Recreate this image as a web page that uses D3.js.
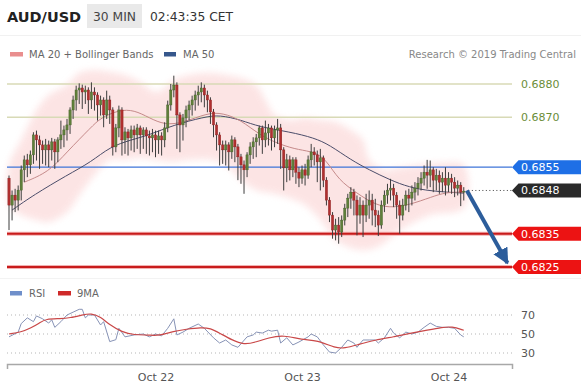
<!DOCTYPE html>
<html><head><meta charset="utf-8">
<script src="https://cdn.jsdelivr.net/npm/d3@7"></script>
<style>body{margin:0;background:#fff;}svg{display:block;font-family:"DejaVu Sans",sans-serif;}</style>
</head><body><svg id="c" width="581" height="383"></svg>
<script>
// ---------- DATA ----------
const startTime = Date.UTC(2019, 9, 21, 0, 0);   // first 30-min bar
const barMinutes = 30;
const opens = [
0.68517,0.68436,0.68466,0.68451,0.68481,0.68542,0.68572,0.68557,0.68587,0.68647,
0.68632,0.68617,0.68602,0.68617,0.68602,0.68626,0.68596,0.68632,0.68647,0.68662,
0.68677,0.68722,0.68752,0.68782,0.68788,0.68776,0.68782,0.68752,0.68776,0.68767,
0.68737,0.68752,0.68707,0.68752,0.68722,0.68611,0.68668,0.68722,0.68632,0.68656,
0.68638,0.68662,0.68647,0.68668,0.68647,0.68662,0.68644,0.68638,0.68647,0.68632,
0.68644,0.68632,0.68668,0.68737,0.68782,0.68797,0.68707,0.68677,0.68698,0.68722,
0.68737,0.68752,0.68767,0.68776,0.68788,0.68767,0.68752,0.68716,0.68677,0.68647,
0.68617,0.68602,0.68617,0.68596,0.68632,0.68611,0.68581,0.68557,0.68542,0.68587,
0.68611,0.68626,0.68638,0.68668,0.68632,0.68653,0.68668,0.68638,0.68662,0.68668,
0.68602,0.68548,0.68572,0.68542,0.68572,0.68535,0.68517,0.68542,0.68526,0.68572,
0.68596,0.68587,0.68566,0.68578,0.68511,0.68451,0.68406,0.68361,0.68376,0.68355,
0.68391,0.68427,0.68457,0.68475,0.68451,0.68406,0.68436,0.68406,0.68436,0.68451,
0.68421,0.68406,0.68376,0.68436,0.68466,0.68481,0.68487,0.68466,0.68436,0.68406,
0.68436,0.68466,0.68457,0.68475,0.68487,0.68502,0.68517,0.68535,0.68526,0.68542,
0.68511,0.68526,0.68505,0.68517,0.68496,0.68517,0.68505,0.68487,0.68496,0.68475];
const highs = [
0.68525,0.68480,0.68485,0.68495,0.68555,0.68585,0.68590,0.68600,0.68655,0.68660,
0.68645,0.68630,0.68635,0.68630,0.68638,0.68635,0.68640,0.68690,0.68675,0.68695,
0.68730,0.68765,0.68795,0.68802,0.68798,0.68795,0.68790,0.68805,0.68790,0.68775,
0.68765,0.68760,0.68780,0.68765,0.68730,0.68680,0.68735,0.68730,0.68670,0.68665,
0.68675,0.68675,0.68680,0.68675,0.68670,0.68670,0.68660,0.68665,0.68660,0.68660,
0.68655,0.68685,0.68750,0.68800,0.68825,0.68805,0.68715,0.68710,0.68735,0.68750,
0.68765,0.68780,0.68795,0.68805,0.68798,0.68780,0.68760,0.68725,0.68685,0.68655,
0.68630,0.68630,0.68625,0.68645,0.68640,0.68620,0.68590,0.68570,0.68595,0.68625,
0.68640,0.68650,0.68675,0.68675,0.68690,0.68680,0.68675,0.68675,0.68695,0.68680,
0.68610,0.68590,0.68585,0.68580,0.68580,0.68550,0.68555,0.68560,0.68585,0.68620,
0.68610,0.68600,0.68605,0.68585,0.68520,0.68460,0.68415,0.68395,0.68400,0.68405,
0.68440,0.68470,0.68490,0.68485,0.68465,0.68460,0.68450,0.68470,0.68480,0.68470,
0.68455,0.68420,0.68450,0.68480,0.68500,0.68515,0.68500,0.68475,0.68450,0.68455,
0.68480,0.68485,0.68495,0.68505,0.68520,0.68535,0.68555,0.68572,0.68570,0.68550,
0.68545,0.68540,0.68535,0.68550,0.68535,0.68530,0.68520,0.68510,0.68505,0.68490];
const lows = [
0.68361,0.68390,0.68415,0.68420,0.68450,0.68505,0.68520,0.68530,0.68560,0.68570,
0.68545,0.68560,0.68555,0.68550,0.68570,0.68545,0.68565,0.68605,0.68610,0.68630,
0.68650,0.68695,0.68720,0.68740,0.68725,0.68740,0.68710,0.68725,0.68720,0.68690,
0.68705,0.68670,0.68695,0.68680,0.68585,0.68595,0.68640,0.68585,0.68590,0.68585,
0.68600,0.68595,0.68605,0.68590,0.68605,0.68590,0.68585,0.68595,0.68580,0.68590,
0.68585,0.68610,0.68655,0.68720,0.68760,0.68605,0.68595,0.68630,0.68670,0.68690,
0.68705,0.68720,0.68735,0.68745,0.68730,0.68715,0.68680,0.68640,0.68600,0.68555,
0.68560,0.68555,0.68540,0.68575,0.68565,0.68511,0.68500,0.68470,0.68520,0.68560,
0.68575,0.68580,0.68615,0.68590,0.68610,0.68615,0.68600,0.68610,0.68620,0.68545,
0.68480,0.68505,0.68510,0.68520,0.68500,0.68490,0.68500,0.68495,0.68515,0.68550,
0.68555,0.68505,0.68480,0.68490,0.68435,0.68385,0.68335,0.68330,0.68320,0.68340,
0.68375,0.68400,0.68425,0.68405,0.68345,0.68380,0.68340,0.68385,0.68395,0.68375,
0.68370,0.68343,0.68365,0.68415,0.68440,0.68450,0.68430,0.68395,0.68350,0.68390,
0.68420,0.68415,0.68435,0.68450,0.68465,0.68480,0.68495,0.68485,0.68490,0.68475,
0.68480,0.68470,0.68475,0.68465,0.68475,0.68470,0.68460,0.68465,0.68433,0.68450];
const closes = [
0.68436,0.68466,0.68451,0.68481,0.68542,0.68572,0.68557,0.68587,0.68647,0.68632,
0.68617,0.68602,0.68617,0.68602,0.68626,0.68596,0.68632,0.68647,0.68662,0.68677,
0.68722,0.68752,0.68782,0.68788,0.68776,0.68782,0.68752,0.68776,0.68767,0.68737,
0.68752,0.68707,0.68752,0.68722,0.68611,0.68668,0.68722,0.68632,0.68656,0.68638,
0.68662,0.68647,0.68668,0.68647,0.68662,0.68644,0.68638,0.68647,0.68632,0.68644,
0.68632,0.68668,0.68737,0.68782,0.68797,0.68707,0.68677,0.68698,0.68722,0.68737,
0.68752,0.68767,0.68776,0.68788,0.68767,0.68752,0.68716,0.68677,0.68647,0.68617,
0.68602,0.68617,0.68596,0.68632,0.68611,0.68581,0.68557,0.68542,0.68587,0.68611,
0.68626,0.68638,0.68668,0.68632,0.68653,0.68668,0.68638,0.68662,0.68668,0.68602,
0.68548,0.68572,0.68542,0.68572,0.68535,0.68517,0.68542,0.68526,0.68572,0.68596,
0.68587,0.68566,0.68578,0.68511,0.68451,0.68406,0.68361,0.68376,0.68355,0.68391,
0.68427,0.68457,0.68475,0.68451,0.68406,0.68436,0.68406,0.68436,0.68451,0.68421,
0.68406,0.68376,0.68436,0.68466,0.68481,0.68487,0.68466,0.68436,0.68406,0.68436,
0.68466,0.68457,0.68475,0.68487,0.68502,0.68517,0.68535,0.68526,0.68542,0.68511,
0.68526,0.68505,0.68517,0.68496,0.68517,0.68505,0.68487,0.68496,0.68475,0.68478];

// [bar, price]
const ma50 = [[1,0.68421],[8,0.68466],[19,0.68526],[27,0.68566],[33,0.68611],[40,0.68632],[46,0.68647],[54,0.68677],[64,0.68701],[69,0.68707],[76,0.68692],[82,0.68671],[92,0.68656],[100,0.68638],[105,0.68617],[112,0.68572],[118,0.68542],[125,0.68511],[131,0.68490],[138,0.68478],[149,0.68472]];
const ma20 = [[5,0.68505],[13,0.68535],[19,0.68596],[27,0.68671],[30,0.68698],[36,0.68722],[41,0.68722],[46,0.68698],[51,0.68677],[57,0.68683],[65,0.68713],[70,0.68713],[76,0.68692],[82,0.68647],[89,0.68617],[95,0.68602],[100,0.68596],[104,0.68572],[108,0.68511],[114,0.68472],[120,0.68436],[126,0.68427],[133,0.68442],[140,0.68466],[144,0.68475],[149,0.68475]];
const bbUpper = [[0,0.68557],[4,0.68632],[9,0.68722],[13,0.68767],[19,0.68797],[23,0.68833],[28,0.68842],[33,0.68836],[38,0.68827],[43,0.68806],[48,0.68776],[51,0.68788],[54,0.68812],[59,0.68827],[66,0.68833],[71,0.68827],[76,0.68818],[81,0.68797],[84,0.68752],[87,0.68707],[92,0.68692],[97,0.68698],[102,0.68692],[107,0.68686],[112,0.68662],[116,0.68632],[118,0.68572],[123,0.68542],[128,0.68548],[135,0.68557],[141,0.68563],[149,0.68557]];
const bbLower = [[0,0.68436],[4,0.68406],[9,0.68391],[13,0.68385],[19,0.68415],[23,0.68466],[28,0.68526],[33,0.68572],[38,0.68572],[43,0.68578],[48,0.68572],[53,0.68566],[59,0.68572],[66,0.68572],[71,0.68557],[76,0.68511],[81,0.68481],[86,0.68472],[92,0.68457],[97,0.68436],[102,0.68391],[107,0.68331],[112,0.68307],[117,0.68301],[122,0.68316],[126,0.68346],[131,0.68376],[138,0.68406],[149,0.68427]];

// [bar, value]
const rsi = [[0,47],[3,52],[4,61],[6,67],[8,63],[9,69],[11,66],[13,61.5],[14,65],[15,57],[17,63],[19,70],[21,73],[23,76],[24,76],[25,67],[26,70],[28,70],[30,59.5],[31,63],[33,42],[35,44],[36,56],[38,47],[41,49],[44,50],[46,47],[48,50],[50,48],[52,56],[54,66],[55,49],[57,52],[59,56],[62,60.5],[64,56],[67,46],[69,40.5],[71,43.7],[73,38.5],[75,36],[78,47],[80,49],[81,52],[83,51],[85,54],[86,53],[88,54],[89,40.5],[91,46],[93,38.5],[95,41.6],[98,47],[99,50],[101,47],[103,38.5],[105,31],[107,30],[109,36],[111,43.7],[113,40.5],[114,36],[116,43.7],[118,43.7],[120,43.7],[121,40.5],[123,46],[125,56],[126,51],[128,46],[130,52],[132,50],[134,52],[136,57],[138,61.5],[140,58],[142,57],[144,57],[146,56],[148,49],[149,47]];
const rsiMA = [[0,50],[4,52],[7,56],[10,61.5],[12,66],[17,66],[20,67],[24,70],[27,72],[30,68],[33,59.5],[37,52],[41,49],[46,49],[49,48],[54,53],[58,55],[63,57],[66,56],[69,51],[73,43.7],[77,38.5],[81,41.6],[85,46],[90,49],[96,43.7],[101,43.7],[107,35],[110,35],[114,38.5],[120,43.7],[126,47],[132,51],[137,54],[142,57],[145,58],[149,54]];

const levelPrices = [0.6880, 0.6870, 0.6855, 0.6848, 0.6835, 0.6825];
const levelLabels = ["0.6880", "0.6870", "0.6855", "0.6848", "0.6835", "0.6825"];
const levelKinds  = ["target", "target", "resistance", "last", "support", "support"];
const rsiTicks = [70, 50, 30];
const dayTicks = ["2019-10-22", "2019-10-23", "2019-10-24"];
const arrowFrom = [150, 0.6848];
const arrowTo = [163.3, 0.68262];

// ---------- DRAW ----------
const svg = d3.select("#c");
const tOf = i => new Date(startTime + i * barMinutes * 60000);
const x = d3.scaleUtc().domain([tOf(-0.66), tOf(164.8)]).range([7, 512]);
const y = d3.scaleLinear().domain([0.6825, 0.6880]).range([267, 84]);
const yr = d3.scaleLinear().domain([30, 70]).range([353, 315]);
const X0 = 7, X1 = 512;

const defs = svg.append("defs");
defs.append("filter").attr("id", "blur").attr("x", "-10%").attr("y", "-20%").attr("width", "120%").attr("height", "140%")
  .append("feGaussianBlur").attr("stdDeviation", 3.5);
defs.append("marker").attr("id", "ah").attr("markerUnits", "userSpaceOnUse")
  .attr("viewBox", "0 0 10 10").attr("refX", 9).attr("refY", 5)
  .attr("markerWidth", 16).attr("markerHeight", 16).attr("orient", "auto")
  .append("path").attr("d", "M0,0 L10,5 L0,10 z").attr("fill", "#2c5d9b");

// header
svg.append("text").attr("x", 7).attr("y", 22).attr("font-size", 14.5).attr("font-weight", "bold").attr("fill", "#222").text("AUD/USD");
svg.append("rect").attr("x", 87).attr("y", 4).attr("width", 55).attr("height", 24).attr("fill", "#e9e9e9");
svg.append("text").attr("x", 114.5).attr("y", 21).attr("text-anchor", "middle").attr("font-size", 12.3).attr("fill", "#444").text("30 MIN");
svg.append("text").attr("x", 150).attr("y", 21).attr("font-size", 12.3).attr("fill", "#333").text("02:43:35 CET");
svg.append("line").attr("x1", 0).attr("x2", 581).attr("y1", 35.5).attr("y2", 35.5).attr("stroke", "#f1f1f1");

// legends
svg.append("rect").attr("x", 10).attr("y", 52).attr("width", 13).attr("height", 4.5).attr("fill", "#e98e8e");
svg.append("text").attr("x", 29).attr("y", 58).attr("font-size", 10).attr("fill", "#666").text("MA 20 + Bollinger Bands");
svg.append("rect").attr("x", 164).attr("y", 52).attr("width", 12).attr("height", 4.5).attr("fill", "#36578c");
svg.append("text").attr("x", 183).attr("y", 58).attr("font-size", 10).attr("fill", "#666").text("MA 50");
svg.append("text").attr("x", 576).attr("y", 58).attr("text-anchor", "end").attr("font-size", 10).attr("fill", "#888").text("Research © 2019 Trading Central");

// Bollinger band blob
const ptLine = d3.line().x(d => x(tOf(d[0]))).y(d => y(d[1]));
svg.append("path")
  .attr("d", ptLine.curve(d3.curveCatmullRomClosed.alpha(0.5))(bbUpper.concat(bbLower.slice().reverse())))
  .attr("fill", "#fcdede").attr("opacity", 0.8).attr("filter", "url(#blur)");

// level lines
const lvl = svg.append("g");
levelPrices.forEach((p, k) => {
  const kind = levelKinds[k], yy = y(p);
  if (kind === "target") {
    lvl.append("line").attr("x1", X0).attr("x2", X1).attr("y1", yy).attr("y2", yy).attr("stroke", "#d8dab6").attr("stroke-width", 1.5);
  } else if (kind === "resistance") {
    lvl.append("line").attr("x1", X0).attr("x2", X1).attr("y1", yy).attr("y2", yy).attr("stroke", "#3e74d8").attr("stroke-width", 1.3);
  } else if (kind === "support") {
    lvl.append("line").attr("x1", X0).attr("x2", X1).attr("y1", yy).attr("y2", yy).attr("stroke", "#f3b0b0").attr("stroke-width", 4);
    lvl.append("line").attr("x1", X0).attr("x2", X1).attr("y1", yy).attr("y2", yy).attr("stroke", "#c81c1c").attr("stroke-width", 2.2);
  } else {
    lvl.append("line").attr("x1", x(tOf(150.5))).attr("x2", X1).attr("y1", yy).attr("y2", yy).attr("stroke", "#444").attr("stroke-width", 1).attr("stroke-dasharray", "1,2.5");
  }
});

// moving averages
svg.append("path").attr("d", ptLine.curve(d3.curveBasis)(ma50)).attr("fill", "none").attr("stroke", "#4b4d6a").attr("stroke-width", 1);
svg.append("path").attr("d", ptLine.curve(d3.curveBasis)(ma20)).attr("fill", "none").attr("stroke", "#c58a8a").attr("stroke-width", 1);

// candles
const bars = opens.map((o, i) => ({ t: tOf(i), o, h: highs[i], l: lows[i], c: closes[i] }));
const cg = svg.append("g");
cg.selectAll("line").data(bars).join("line")
  .attr("x1", d => x(d.t)).attr("x2", d => x(d.t))
  .attr("y1", d => y(d.h)).attr("y2", d => y(d.l))
  .attr("stroke", "#3d3d3d").attr("stroke-width", 1);
cg.selectAll("rect").data(bars).join("rect")
  .attr("x", d => x(d.t) - 1.15).attr("width", 2.3)
  .attr("y", d => y(Math.max(d.o, d.c)))
  .attr("height", d => Math.max(1, Math.abs(y(d.o) - y(d.c))))
  .attr("fill", d => d.c >= d.o ? "#5f7f3a" : "#b12f2f")
  .attr("stroke", d => d.c >= d.o ? "#44612a" : "#8a2020").attr("stroke-width", 0.4);

// arrow
svg.append("line")
  .attr("x1", x(tOf(arrowFrom[0]))).attr("y1", y(arrowFrom[1]))
  .attr("x2", x(tOf(arrowTo[0]))).attr("y2", y(arrowTo[1]))
  .attr("stroke", "#2c5d9b").attr("stroke-width", 4).attr("marker-end", "url(#ah)");

// tags and labels
levelPrices.forEach((p, k) => {
  const kind = levelKinds[k], yy = y(p);
  if (kind === "target") {
    svg.append("text").attr("x", 521).attr("y", yy).attr("dy", "0.36em").attr("font-size", 11).attr("fill", "#6b8d38").text(levelLabels[k]);
  } else {
    const col = kind === "resistance" ? "#1e6fe6" : kind === "support" ? "#ec1313" : "#2a2a2a";
    svg.append("path").attr("d", `M512,${yy} L518.5,${yy - 7} L581,${yy - 7} L581,${yy + 7} L518.5,${yy + 7} Z`).attr("fill", col);
    svg.append("text").attr("x", 521).attr("y", yy).attr("dy", "0.36em").attr("font-size", 11).attr("fill", "#fff").text(levelLabels[k]);
  }
});

// separator
svg.append("line").attr("x1", 0).attr("x2", 581).attr("y1", 278.5).attr("y2", 278.5).attr("stroke", "#f3f3f3");

// RSI legend
svg.append("rect").attr("x", 10).attr("y", 291).attr("width", 12).attr("height", 4.5).attr("fill", "#6f8fca");
svg.append("text").attr("x", 29).attr("y", 297).attr("font-size", 10).attr("fill", "#666").text("RSI");
svg.append("rect").attr("x", 58).attr("y", 291).attr("width", 13).attr("height", 4.5).attr("fill", "#cf2a2a");
svg.append("text").attr("x", 77).attr("y", 297).attr("font-size", 10).attr("fill", "#666").text("9MA");

// RSI grid
rsiTicks.forEach(v => {
  svg.append("line").attr("x1", X0).attr("x2", X1).attr("y1", yr(v)).attr("y2", yr(v))
    .attr("stroke", "#b5b5b5").attr("stroke-width", 1).attr("stroke-dasharray", "1,3");
  svg.append("text").attr("x", 521).attr("y", yr(v)).attr("dy", "0.36em").attr("font-size", 11).attr("fill", "#555").text(v);
});

const rLine = d3.line().x(d => x(tOf(d[0]))).y(d => yr(d[1]));
svg.append("path").attr("d", rLine.curve(d3.curveLinear)(rsi)).attr("fill", "none").attr("stroke", "#8793b6").attr("stroke-width", 1);
svg.append("path").attr("d", rLine.curve(d3.curveBasis)(rsiMA)).attr("fill", "none").attr("stroke", "#c94848").attr("stroke-width", 1.2);

// time axis
const ax = d3.axisBottom(x).tickValues(dayTicks.map(s => new Date(s + "T00:00:00Z")))
  .tickFormat(d3.utcFormat("%b %d")).tickSizeInner(0).tickSizeOuter(5).tickPadding(9.5);
const ag = svg.append("g").attr("transform", "translate(0,364)").call(ax);
ag.select(".domain").attr("stroke", "#a8a8a8").attr("stroke-width", 1.5);
ag.selectAll("text").attr("font-size", 11).attr("fill", "#555").attr("font-family", "DejaVu Sans");
</script></body></html>
